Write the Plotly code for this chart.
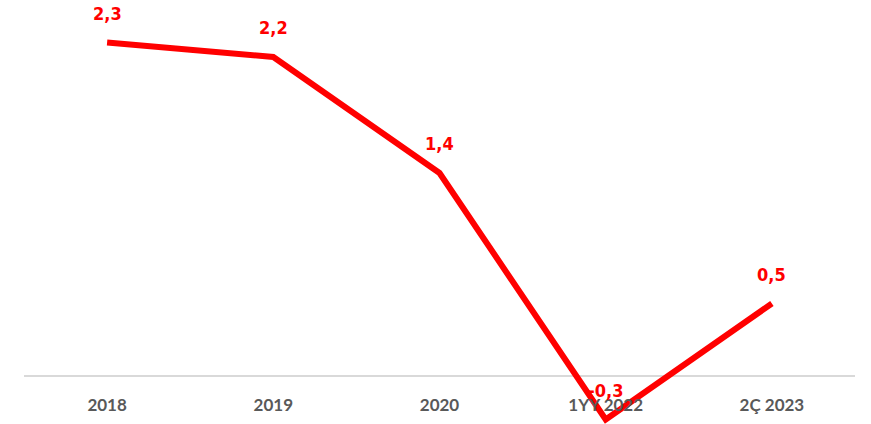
import plotly.graph_objects as go

categories = ["2018", "2019", "2020", "1YY 2022", "2Ç 2023"]
values = [2.3, 2.2, 1.4, -0.3, 0.5]
value_labels = ["2,3", "2,2", "1,4", "-0,3", "0,5"]

y_min, y_max = -0.331, 2.593

fig = go.Figure()
fig.add_trace(go.Scatter(
    x=categories, y=values, mode="lines",
    line=dict(color="#ff0000", width=6),
    hoverinfo="skip", showlegend=False,
))

for i, (v, t) in enumerate(zip(values, value_labels)):
    fig.add_annotation(
        x=i, y=v, text="<b>" + t + "</b>", showarrow=False, yshift=29,
        font=dict(family="DejaVu Sans Condensed", size=18, color="#ff0000"),
    )

fig.update_layout(
    width=871, height=424,
    margin=dict(l=24, r=16, t=0, b=0),
    paper_bgcolor="white", plot_bgcolor="white",
    xaxis=dict(
        type="category", categoryorder="array", categoryarray=categories,
        range=[-0.5, 4.5],
        showgrid=False, showline=False, zeroline=False,
        anchor="free", position=(0 - y_min) / (y_max - y_min),
        ticks="outside", ticklen=14, tickcolor="rgba(0,0,0,0)",
        tickfont=dict(family="Lato", size=17, color="#595959", weight="bold"),
    ),
    yaxis=dict(
        range=[y_min, y_max], showgrid=False, showticklabels=False,
        zeroline=True, zerolinecolor="#d9d9d9", zerolinewidth=2,
    ),
)

fig.write_html("out.html", config={"displayModeBar": False},
               post_script="document.body.style.margin='0px';")
